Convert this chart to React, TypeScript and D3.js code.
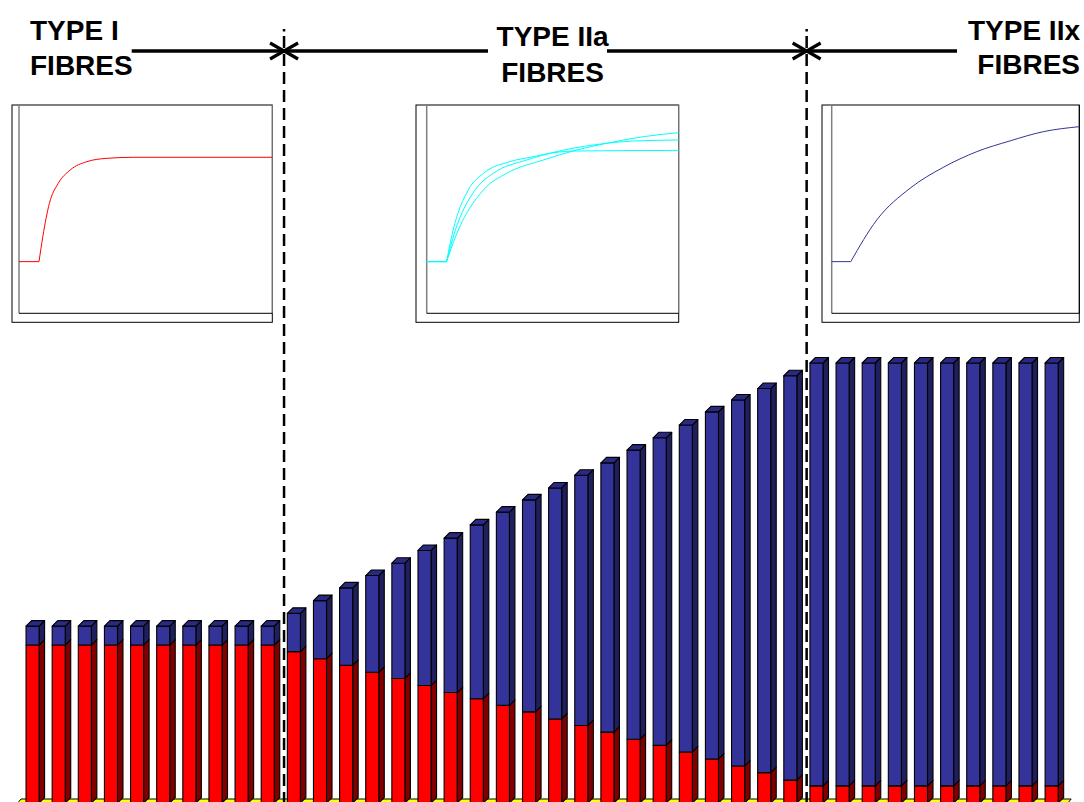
import React from "react";
import * as d3 from "d3";

// ---- Data ----
const fibreIndex: number[] = d3.range(1, 41);
// oxidative component (red), % of max
const oxidative: number[] = [
  35.9, 35.9, 35.9, 35.9, 35.9, 35.9, 35.9, 35.9, 35.9, 35.9,
  34.4, 32.8, 31.3, 29.7, 28.3, 26.7, 25.1, 23.7, 22.2, 20.7,
  19.1, 17.6, 16.1, 14.5, 13.1, 11.6, 10.0, 8.4, 6.9, 5.2,
  3.9, 3.9, 3.9, 3.9, 3.9, 3.9, 3.9, 3.9, 3.9, 3.9,
];
// glycolytic component (blue), stacked on top
const glycolytic: number[] = [
  4.3, 4.3, 4.3, 4.3, 4.3, 4.3, 4.3, 4.3, 4.3, 4.3,
  8.7, 13.2, 17.6, 22.0, 26.2, 30.7, 35.1, 39.5, 43.9, 48.2,
  52.5, 56.9, 61.2, 65.7, 69.9, 74.3, 78.9, 83.2, 87.3, 91.9,
  96.1, 96.1, 96.1, 96.1, 96.1, 96.1, 96.1, 96.1, 96.1, 96.1,
];
const regionLabels: string[][] = [
  ["TYPE I", "FIBRES"],
  ["TYPE IIa", "FIBRES"],
  ["TYPE IIx", "FIBRES"],
];
// boundaries between fibre types (after bar 10 and bar 30)
const boundaries: number[] = [10.5, 30.5];

// inset curves: [time %, response %]; first two points = resting baseline
const typeICurve: [number, number][] = [
  [0, 24.8], [7.9, 24.8], [9.4, 36.8], [12.0, 52.8], [15.5, 62.4], [20.2, 68.8],
  [26.8, 72.8], [34.7, 74.4], [45.1, 74.9], [100, 74.9],
];
const typeIIaCurves: [number, number][][] = [
  [[0, 24.8], [7.9, 24.8], [10.5, 40.0], [16.5, 59.2], [22.5, 67.2], [33.0, 72.8], [42.3, 75.2], [50.3, 77.1], [58.2, 77.9], [100, 78.2]],
  [[0, 24.8], [7.9, 24.8], [11.0, 38.5], [19.2, 59.2], [26.4, 67.2], [39.7, 73.6], [51.6, 77.6], [66.1, 80.8], [82.0, 82.7], [100, 83.2]],
  [[0, 24.8], [7.9, 24.8], [11.5, 37.0], [22.5, 59.2], [31.7, 67.2], [46.3, 73.6], [59.5, 78.4], [71.4, 81.6], [86.0, 84.8], [100, 86.7]],
];
const typeIIxCurve: [number, number][] = [
  [0, 24.8], [7.7, 24.8], [18.2, 44.8], [31.6, 60.0], [45.1, 70.1], [58.6, 77.6],
  [72.1, 82.8], [85.5, 87.2], [100, 89.6],
];

const W = 1084;
const H = 802;
const FONT = "'Liberation Sans', Arial, Helvetica, sans-serif";

const x = d3
  .scaleBand<number>()
  .domain(fibreIndex)
  .range([19.5, 19.5 + 40 * 26.13])
  .paddingInner(0.5)
  .paddingOuter(0.25);
const y = d3.scaleLinear().domain([0, 100]).range([803, 363]);
const D = 5.5;

const boundaryX = (b: number) => {
  const lo = Math.floor(b);
  const x1 = (x(lo) ?? 0) + x.bandwidth() + D;
  const x2 = x(lo + 1) ?? 0;
  return (x1 + x2) / 2 + 0.5;
};

type InsetSpec = {
  outer: [number, number, number, number];
  plotLeft: number;
  rightColor: string;
  curves: [number, number][][];
  color: string;
};

const insets: InsetSpec[] = [
  { outer: [12, 105, 272.3, 322.3], plotLeft: 19, rightColor: "#808080", curves: [typeICurve], color: "#ff0000" },
  { outer: [416, 105, 678.7, 322.3], plotLeft: 426.7, rightColor: "#808080", curves: typeIIaCurves, color: "#00ffff" },
  { outer: [822, 105, 1079.3, 322.3], plotLeft: 831.7, rightColor: "#000000", curves: [typeIIxCurve], color: "#333399" },
];

function Inset({ spec }: { spec: InsetSpec }) {
  const [x0, y0, x1, y1] = spec.outer;
  const axisY = 313.3;
  const sx = d3.scaleLinear().domain([0, 100]).range([spec.plotLeft, x1]);
  const sy = d3.scaleLinear().domain([0, 100]).range([axisY, y0]);
  const flat = d3
    .line<[number, number]>()
    .x((d) => sx(d[0]))
    .y((d) => sy(d[1]));
  const rise = d3
    .line<[number, number]>()
    .x((d) => sx(d[0]))
    .y((d) => sy(d[1]))
    .curve(d3.curveMonotoneX);
  return (
    <g>
      <rect x={x0} y={y0} width={x1 - x0} height={y1 - y0} fill="#fff" stroke="#000" strokeWidth={1} />
      <line x1={spec.plotLeft} x2={spec.plotLeft} y1={y0} y2={axisY} stroke="#808080" strokeWidth={1.5} />
      <line x1={x1} x2={x1} y1={y0} y2={axisY} stroke={spec.rightColor} strokeWidth={1} />
      <line x1={spec.plotLeft} x2={x1} y1={axisY} y2={axisY} stroke="#000" strokeWidth={1} />
      {spec.curves.map((c, i) => (
        <g key={i} fill="none" stroke={spec.color} strokeWidth={1}>
          <path d={flat(c.slice(0, 2)) ?? ""} />
          <path d={rise(c.slice(1)) ?? ""} />
        </g>
      ))}
    </g>
  );
}

function Bar({ i }: { i: number }) {
  const bx = x(fibreIndex[i]) ?? 0;
  const w = x.bandwidth();
  const y0 = y(0);
  const yr = y(oxidative[i]);
  const yt = y(oxidative[i] + glycolytic[i]);
  const side = (ya: number, yb: number) =>
    `${bx + w},${ya} ${bx + w + D},${ya - D} ${bx + w + D},${yb - D} ${bx + w},${yb}`;
  const top = `${bx},${yt} ${bx + D},${yt - D} ${bx + w + D},${yt - D} ${bx + w},${yt}`;
  return (
    <g stroke="#000" strokeWidth={1.1} strokeLinejoin="round">
      <polygon points={side(yr, y0)} fill="#800000" />
      <rect x={bx} y={yr} width={w} height={y0 - yr} fill="#ff0000" />
      <polygon points={side(yt, yr)} fill="#1f1f5e" />
      <rect x={bx} y={yt} width={w} height={yr - yt} fill="#333399" />
      <polygon points={top} fill="#2a2a82" />
    </g>
  );
}

function Chevron({ tipX, yv, dir }: { tipX: number; yv: number; dir: 1 | -1 }) {
  const back = tipX - dir * 14;
  return (
    <path
      d={`M${back},${yv - 8} L${tipX},${yv} L${back},${yv + 8}`}
      fill="none"
      stroke="#000"
      strokeWidth={3.2}
      strokeLinejoin="miter"
    />
  );
}

export default function App() {
  const bx1 = boundaryX(boundaries[0]);
  const bx2 = boundaryX(boundaries[1]);
  const ay = 51;
  const floorL = (x(1) ?? 0) - 5;
  const floorR = (x(40) ?? 0) + x.bandwidth() + 13;
  return (
    <svg
      width={W}
      height={H}
      viewBox={`0 0 ${W} ${H}`}
      style={{ position: "absolute", left: 0, top: 0, background: "#fff", display: "block" }}
      fontFamily={FONT}
    >
      <rect x={0} y={0} width={W} height={H} fill="#fff" />
      {/* floor */}
      <polygon
        points={`${floorL - 5},805 ${floorL},799 ${floorR},799 ${floorR - 5},805`}
        fill="#ffff00"
        stroke="#000"
        strokeWidth={1}
      />
      {/* bars */}
      {fibreIndex.map((_, i) => (
        <Bar key={i} i={i} />
      ))}
      {/* insets */}
      {insets.map((s, i) => (
        <Inset key={i} spec={s} />
      ))}
      {/* dashed boundaries */}
      {[bx1, bx2].map((bx, i) => (
        <g key={i}>
          <line x1={bx} x2={bx} y1={29} y2={31.5} stroke="#000" strokeWidth={2.5} />
          <line x1={bx} x2={bx} y1={36} y2={H} stroke="#000" strokeWidth={2.5} strokeDasharray="12,6" />
        </g>
      ))}
      {/* arrows */}
      <g stroke="#000" strokeWidth={3.5}>
        <line x1={131.7} x2={bx1} y1={ay} y2={ay} />
        <line x1={bx1} x2={488} y1={ay} y2={ay} />
        <line x1={607} x2={bx2} y1={ay} y2={ay} />
        <line x1={bx2} x2={957} y1={ay} y2={ay} />
      </g>
      <Chevron tipX={bx1} yv={ay} dir={1} />
      <Chevron tipX={bx1} yv={ay} dir={-1} />
      <Chevron tipX={bx2} yv={ay} dir={1} />
      <Chevron tipX={bx2} yv={ay} dir={-1} />
      {/* labels */}
      <g fontWeight="bold" fontSize={28} fill="#000">
        <text x={30} y={40}>{regionLabels[0][0]}</text>
        <text x={30} y={74.5}>{regionLabels[0][1]}</text>
        <text x={552.6} y={46} textAnchor="middle">{regionLabels[1][0]}</text>
        <text x={552.6} y={81.5} textAnchor="middle">{regionLabels[1][1]}</text>
        <text x={1080} y={39.5} textAnchor="end">{regionLabels[2][0]}</text>
        <text x={1080} y={74} textAnchor="end">{regionLabels[2][1]}</text>
      </g>
    </svg>
  );
}
